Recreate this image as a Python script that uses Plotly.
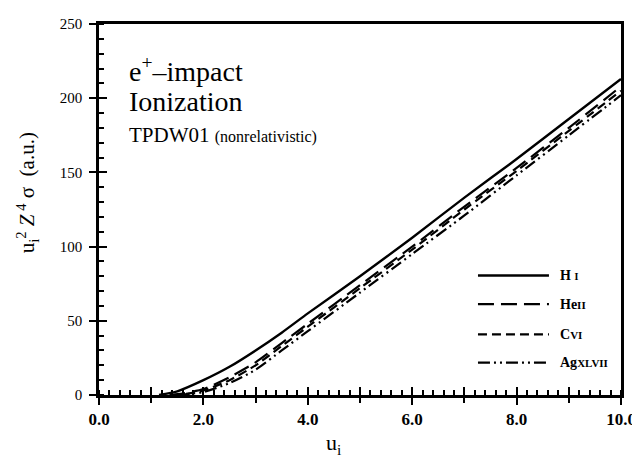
import plotly.graph_objects as go

# ---- data ----
x_HI = [1.15, 1.5, 2.0, 2.5, 3.0, 3.5, 4.0, 5.0, 6.0, 7.0, 8.0, 9.0, 10.0]
y_HI = [0.0, 2.5, 10.0, 19.0, 30.0, 42.0, 55.0, 80.0, 106.0, 133.0, 159.0, 186.0, 213.0]

x_HeII = [1.35, 1.6, 2.0, 2.5, 3.0, 3.5, 4.0, 5.0, 6.0, 7.0, 8.0, 9.0, 10.0]
y_HeII = [0.0, 1.0, 4.0, 12.0, 22.0, 35.0, 48.0, 74.0, 100.0, 127.0, 153.0, 180.0, 208.0]

x_CVI = [1.4, 1.7, 2.0, 2.5, 3.0, 3.5, 4.0, 5.0, 6.0, 7.0, 8.0, 9.0, 10.0]
y_CVI = [0.0, 1.0, 3.0, 10.0, 20.0, 33.0, 46.0, 72.0, 98.0, 125.0, 151.0, 178.0, 205.0]

x_Ag = [1.5, 1.75, 2.0, 2.5, 3.0, 3.5, 4.0, 5.0, 6.0, 7.0, 8.0, 9.0, 10.0]
y_Ag = [0.0, 0.8, 2.0, 8.0, 17.0, 30.0, 43.0, 69.0, 95.0, 121.0, 148.0, 175.0, 202.0]

series_names = ["H I", "HeII", "CVI", "AgXLVII"]
x_labelvals = [0, 2, 4, 6, 8, 10]
x_ticklabels = ["0.0", "2.0", "4.0", "6.0", "8.0", "10.0"]
x_majorvals = [0, 1, 2, 3, 4, 5, 6, 7, 8, 9, 10]
y_ticks = [0, 50, 100, 150, 200, 250]
y_ticklabels = ["0", "50", "100", "150", "200", "250"]

SERIF = "'Times New Roman', 'Liberation Serif', 'DejaVu Serif', serif"
dashes = ["solid", "16px,7px", "9px,5px", "12px,4px,2px,4px,2px,4px"]
widths = [2.4, 2.2, 2.2, 2.2]
xs = [x_HI, x_HeII, x_CVI, x_Ag]
ys = [y_HI, y_HeII, y_CVI, y_Ag]

# page body has an 8px margin: compensate so the plot lands where the reference has it
OFF = 8
L, R, T, B = 99, 621, 16, 395          # target plot-area edges on screen
W, H = 640, 458

fig = go.Figure()
for name, xv, yv, d, w in zip(series_names, xs, ys, dashes, widths):
    fig.add_trace(go.Scatter(x=xv, y=yv, mode="lines", name=name,
                             line=dict(color="black", width=w, dash=d, shape="spline", smoothing=0.6),
                             showlegend=False))

# invisible traces on overlay axes (for crossing major ticks)
fig.add_trace(go.Scatter(x=[0], y=[0], xaxis="x2", yaxis="y2", mode="markers",
                         marker=dict(opacity=0), showlegend=False, hoverinfo="skip"))
fig.add_trace(go.Scatter(x=[0], y=[0], xaxis="x3", yaxis="y2", mode="markers",
                         marker=dict(opacity=0), showlegend=False, hoverinfo="skip"))

hidden = dict(showticklabels=False, showline=False, showgrid=False, zeroline=False)
fig.update_layout(
    width=W, height=H,
    margin=dict(l=L - OFF, r=W - (R - OFF), t=T - OFF, b=H - (B - OFF)),
    paper_bgcolor="white", plot_bgcolor="white",
    font=dict(family=SERIF, color="black"),
    xaxis=dict(range=[0, 10], tickvals=x_labelvals, ticktext=x_ticklabels,
               ticks="outside", ticklen=7, tickwidth=2, tickcolor="black",
               showline=True, linewidth=2.5, linecolor="black", mirror=True,
               showgrid=False, zeroline=False,
               tickfont=dict(family=SERIF, size=17, color="black", weight="bold"),
               minor=dict(dtick=0.2, ticks="inside", ticklen=5, tickwidth=1.5, tickcolor="black")),
    yaxis=dict(range=[0, 250], tickvals=y_ticks, ticktext=y_ticklabels,
               ticks="outside", ticklen=7, tickwidth=2, tickcolor="black",
               showline=True, linewidth=2.5, linecolor="black", mirror=True,
               showgrid=False, zeroline=False, ticklabelstandoff=4,
               tickfont=dict(family=SERIF, size=15, color="black"),
               minor=dict(dtick=10, ticks="inside", ticklen=5, tickwidth=1.5, tickcolor="black")),
    xaxis2=dict(range=[0, 10], overlaying="x", anchor="y2", tickvals=x_majorvals,
                ticks="inside", ticklen=8, tickwidth=2, tickcolor="black", **hidden),
    xaxis3=dict(range=[0, 10], overlaying="x", anchor="y2", tickvals=x_majorvals,
                ticks="outside", ticklen=7, tickwidth=2, tickcolor="black", **hidden),
    yaxis2=dict(range=[0, 250], overlaying="y", anchor="x2", tickvals=y_ticks,
                ticks="inside", ticklen=8, tickwidth=2, tickcolor="black", **hidden),
)

# legend drawn in data coordinates (bottom right)
leg_y = [80.5, 61.3, 40.9, 21.8]
leg_text = ["<b>H</b> <b><span style='font-size:10px'>I</span></b>",
            "<b>He<span style='font-size:11px'>II</span></b>",
            "<b>C<span style='font-size:11px'>VI</span></b>",
            "<b>Ag<span style='font-size:11px'>XLVII</span></b>"]
for yy, t, d, w in zip(leg_y, leg_text, dashes, widths):
    fig.add_shape(type="line", xref="x", yref="y", x0=7.26, x1=8.62, y0=yy, y1=yy,
                  line=dict(color="black", width=w, dash=d))
    fig.add_annotation(x=8.79, y=yy, xref="x", yref="y", text=t, showarrow=False,
                       xanchor="left", yanchor="middle",
                       font=dict(family=SERIF, size=14, color="black"))


def px_to_paper(xp, yp):
    """screen pixel -> paper coordinates of the plot area"""
    return (xp - L) / (R - L), (B - yp) / (B - T)


for txt, xp, yp, sz in [("e<sup>+</sup>–impact", 127, 62, 28),
                        ("Ionization", 127, 95, 28),
                        ("TPDW01 <span style='font-size:16px'>(nonrelativistic)</span>", 127, 129, 21)]:
    px, py = px_to_paper(xp, yp)
    fig.add_annotation(x=px, y=py, xref="paper", yref="paper", text=txt, showarrow=False,
                       xanchor="left", yanchor="middle", font=dict(family=SERIF, size=sz, color="black"))

# axis titles
px, py = px_to_paper(27, 189)
fig.add_annotation(x=px, y=py, xref="paper", yref="paper", textangle=-90, showarrow=False,
                   text="u<sub>i</sub><sup>2</sup> <i>Z</i><sup> 4</sup> σ  (a.u.)",
                   xanchor="center", yanchor="middle", font=dict(family=SERIF, size=21, color="black"))
px, py = px_to_paper(333, 445)
fig.add_annotation(x=px, y=py, xref="paper", yref="paper", showarrow=False,
                   text="u<sub>i</sub>", xanchor="center", yanchor="middle",
                   font=dict(family=SERIF, size=22, color="black"))

fig.write_html("out.html")
